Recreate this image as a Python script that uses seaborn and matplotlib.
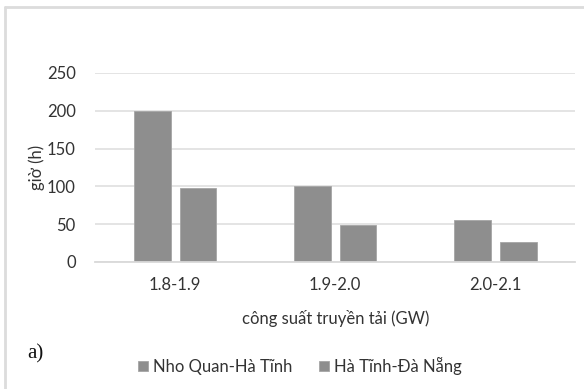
import pandas as pd
import seaborn as sns
import matplotlib.pyplot as plt
from matplotlib.lines import Line2D

categories = ['1.8-1.9', '1.9-2.0', '2.0-2.1']
series = ['Nho Quan-Hà Tĩnh', 'Hà Tĩnh-Đà Nẵng']
nho_quan_ha_tinh = [200, 100, 56]
ha_tinh_da_nang = [98, 49, 27]

BAR_COLOR = '#8e8e8e'
GRID_COLOR = '#e2e2e2'
TEXT_COLOR = '#333333'

sns.set_theme(style='white')
plt.rcParams['font.family'] = ['Lato', 'DejaVu Sans']


def main():
    df = pd.DataFrame({
        'cat': categories * 2,
        'series': [series[0]] * 3 + [series[1]] * 3,
        'val': nho_quan_ha_tinh + ha_tinh_da_nang,
    })

    fig = plt.figure(figsize=(5.84, 3.89), dpi=100)
    ax = fig.add_axes([0.163, 0.3265, 0.822, 0.486])

    sns.barplot(data=df, x='cat', y='val', hue='series', order=categories,
                hue_order=series, palette=[BAR_COLOR, BAR_COLOR],
                width=0.57, gap=0.19, edgecolor='#a5a5a5', linewidth=0.6,
                ax=ax)

    ax.set_ylim(0, 250)
    ax.set_yticks([0, 50, 100, 150, 200, 250])
    ax.set_xlim(-0.5, 2.5)
    ax.yaxis.grid(True, color=GRID_COLOR, linewidth=1.3)
    ax.set_axisbelow(True)
    for side in ['top', 'right', 'left']:
        ax.spines[side].set_visible(False)
    ax.spines['bottom'].set_color('#d9d9d9')
    ax.spines['bottom'].set_linewidth(1.3)
    ax.tick_params(axis='y', length=0, pad=14, labelsize=12, labelcolor=TEXT_COLOR)
    ax.tick_params(axis='x', length=0, pad=11, labelsize=12, labelcolor=TEXT_COLOR)

    ax.set_ylabel('giờ (h)', fontsize=12, color=TEXT_COLOR, labelpad=1)
    ax.set_xlabel('công suất truyền tải (GW)', fontsize=12, color=TEXT_COLOR,
                  labelpad=12)

    sns.move_legend(ax, 'center', bbox_to_anchor=(300 / 584, 1 - 366 / 389),
                    bbox_transform=fig.transFigure, ncol=2, frameon=False,
                    title=None, fontsize=12, handlelength=0.6,
                    handleheight=0.6, handletextpad=0.3, columnspacing=1.6)
    for t in ax.get_legend().get_texts():
        t.set_color(TEXT_COLOR)

    fig.text(27 / 584, 1 - 354 / 389, 'a)', family='Liberation Serif',
             fontsize=15, color='#111111', va='center')

    # light frame on top and left like the source image
    fig.add_artist(Line2D([5 / 584, 1], [1 - 7 / 389, 1 - 7 / 389],
                          transform=fig.transFigure, color='#dcdcdc', lw=2))
    fig.add_artist(Line2D([5 / 584, 5 / 584], [0, 1 - 7 / 389],
                          transform=fig.transFigure, color='#dcdcdc', lw=2))

    fig.savefig('out.png', dpi=100)


if __name__ == '__main__':
    main()
